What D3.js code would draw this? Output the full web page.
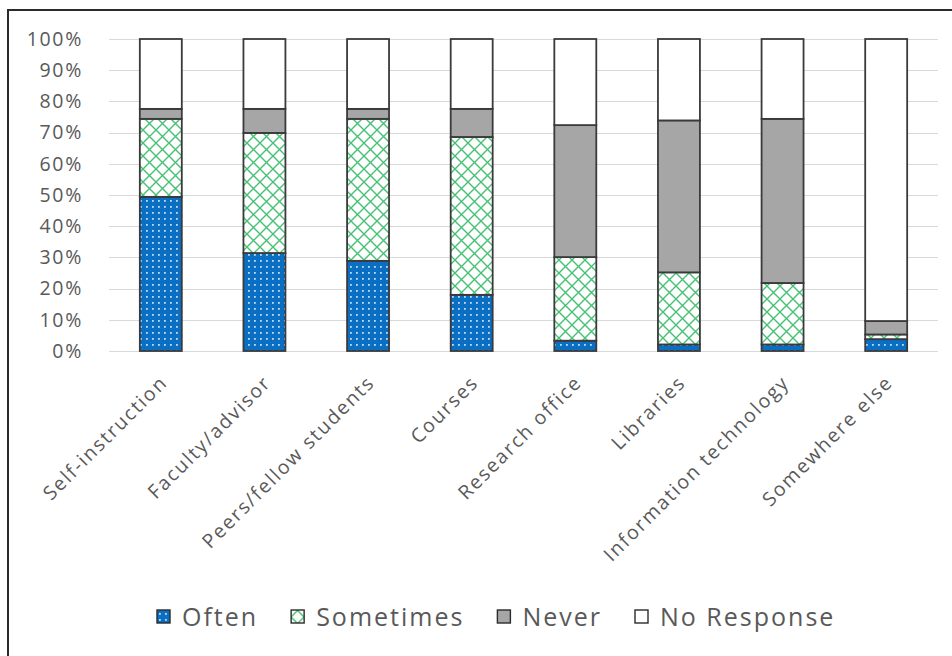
<!DOCTYPE html>
<html>
<head>
<meta charset="utf-8">
<script src="https://cdn.jsdelivr.net/npm/d3@7"></script>
<style>
  html, body { margin: 0; padding: 0; background: #fff; }
  svg { display: block; }
  text { font-family: "Open Sans", sans-serif; fill: #595959; }
</style>
</head>
<body>
<svg id="chart" width="952" height="656"></svg>
<script>
// Where respondents learned to do research, share of responses per source
const categories = ["Self-instruction", "Faculty/advisor", "Peers/fellow students", "Courses",
  "Research office", "Libraries", "Information technology", "Somewhere else"];
const often      = [49.4, 31.4, 28.9, 18.0, 3.3, 2.1, 2.1, 3.8];
const sometimes  = [25.0, 38.5, 45.5, 50.6, 26.8, 23.1, 19.7, 1.5];
const never      = [3.2, 7.7, 3.2, 9.0, 42.3, 48.7, 52.6, 4.3];
const noResponse = [22.4, 22.4, 22.4, 22.4, 27.6, 26.1, 25.6, 90.4];
const seriesNames = ["Often", "Sometimes", "Never", "No Response"];
const yTicks = [0, 10, 20, 30, 40, 50, 60, 70, 80, 90, 100];

const seriesValues = [often, sometimes, never, noResponse];
const rows = categories.map((c, i) => {
  const r = { category: c };
  seriesNames.forEach((s, k) => { r[s] = seriesValues[k][i]; });
  return r;
});

const svg = d3.select("#chart");
const W = 952, H = 656;
const plot = { left: 109, right: 938, top: 39, bottom: 351 };

// Fill patterns
const defs = svg.append("defs");
const pDots = defs.append("pattern").attr("id", "pat-often")
  .attr("patternUnits", "userSpaceOnUse").attr("width", 6).attr("height", 6);
pDots.append("rect").attr("width", 6).attr("height", 6).attr("fill", "#0a6fc2");
pDots.append("rect").attr("x", 2).attr("y", 2).attr("width", 1.8).attr("height", 1.8).attr("fill", "#c0daf2");

const pHatch = defs.append("pattern").attr("id", "pat-sometimes")
  .attr("patternUnits", "userSpaceOnUse").attr("width", 13).attr("height", 13);
pHatch.append("rect").attr("width", 13).attr("height", 13).attr("fill", "#fff");
pHatch.append("path").attr("d", "M0,0L13,13M13,0L0,13")
  .attr("stroke", "#45c274").attr("stroke-width", 1.4).attr("fill", "none");

const fills = {
  "Often": "url(#pat-often)",
  "Sometimes": "url(#pat-sometimes)",
  "Never": "#a6a6a6",
  "No Response": "#ffffff"
};

// Outer frame
svg.append("rect").attr("x", 8).attr("y", 10).attr("width", W + 20).attr("height", H + 20)
  .attr("fill", "none").attr("stroke", "#2b2b2b").attr("stroke-width", 2);

const x = d3.scaleBand().domain(categories).range([plot.left, plot.right])
  .paddingInner(0.595).paddingOuter(0.2975);
const y = d3.scaleLinear().domain([0, 100]).range([plot.bottom, plot.top]);

// Gridlines
svg.append("g").selectAll("line").data(yTicks).join("line")
  .attr("x1", plot.left).attr("x2", plot.right)
  .attr("y1", d => Math.round(y(d)) + 0.5).attr("y2", d => Math.round(y(d)) + 0.5)
  .attr("stroke", "#d9d9d9").attr("stroke-width", 1.2);

// Y axis labels
const yAxis = d3.axisLeft(y).tickValues(yTicks).tickFormat(d => d + "%").tickSize(0).tickPadding(0);
const gy = svg.append("g").attr("transform", `translate(83,0)`).call(yAxis);
gy.select(".domain").remove();
gy.selectAll("text").attr("font-size", 19.5).attr("letter-spacing", 1.7)
  .style("font-family", "'Open Sans', sans-serif").attr("fill", "#595959");

// Stacked bars
const stack = d3.stack().keys(seriesNames);
const layers = stack(rows);
svg.append("g").selectAll("g").data(layers).join("g")
  .attr("fill", d => fills[d.key])
  .selectAll("rect").data(d => d).join("rect")
  .attr("x", d => x(d.data.category))
  .attr("width", x.bandwidth())
  .attr("y", d => y(d[1]))
  .attr("height", d => y(d[0]) - y(d[1]))
  .attr("stroke", "#3a3a3a").attr("stroke-width", 1.8);

// Category labels, rotated
const xAxis = d3.axisBottom(x).tickSize(0).tickPadding(0);
const gx = svg.append("g").attr("transform", `translate(0,${plot.bottom})`).call(xAxis);
gx.select(".domain").remove();
gx.selectAll("text")
  .attr("font-size", 19.5).attr("letter-spacing", 1.8)
  .style("font-family", "'Open Sans', sans-serif").attr("fill", "#595959")
  .attr("text-anchor", "end")
  .attr("dy", "0.35em")
  .attr("transform", "translate(3,28) rotate(-45)");

// Legend
const legend = svg.append("g").attr("transform", "translate(0,617)");
let lx = 157;
seriesNames.forEach(name => {
  const g = legend.append("g").attr("transform", `translate(${lx},0)`);
  g.append("rect").attr("x", 0).attr("y", -7).attr("width", 13).attr("height", 13)
    .attr("fill", fills[name]).attr("stroke", "#2b2b2b").attr("stroke-width", 1.4);
  const t = g.append("text").attr("x", 25).attr("y", 0).attr("dy", "0.36em")
    .attr("font-size", 25).attr("letter-spacing", 2)
    .style("font-family", "'Open Sans', sans-serif").attr("fill", "#595959").text(name);
  lx += 25 + t.node().getComputedTextLength() + 33;
});
</script>
</body>
</html>
